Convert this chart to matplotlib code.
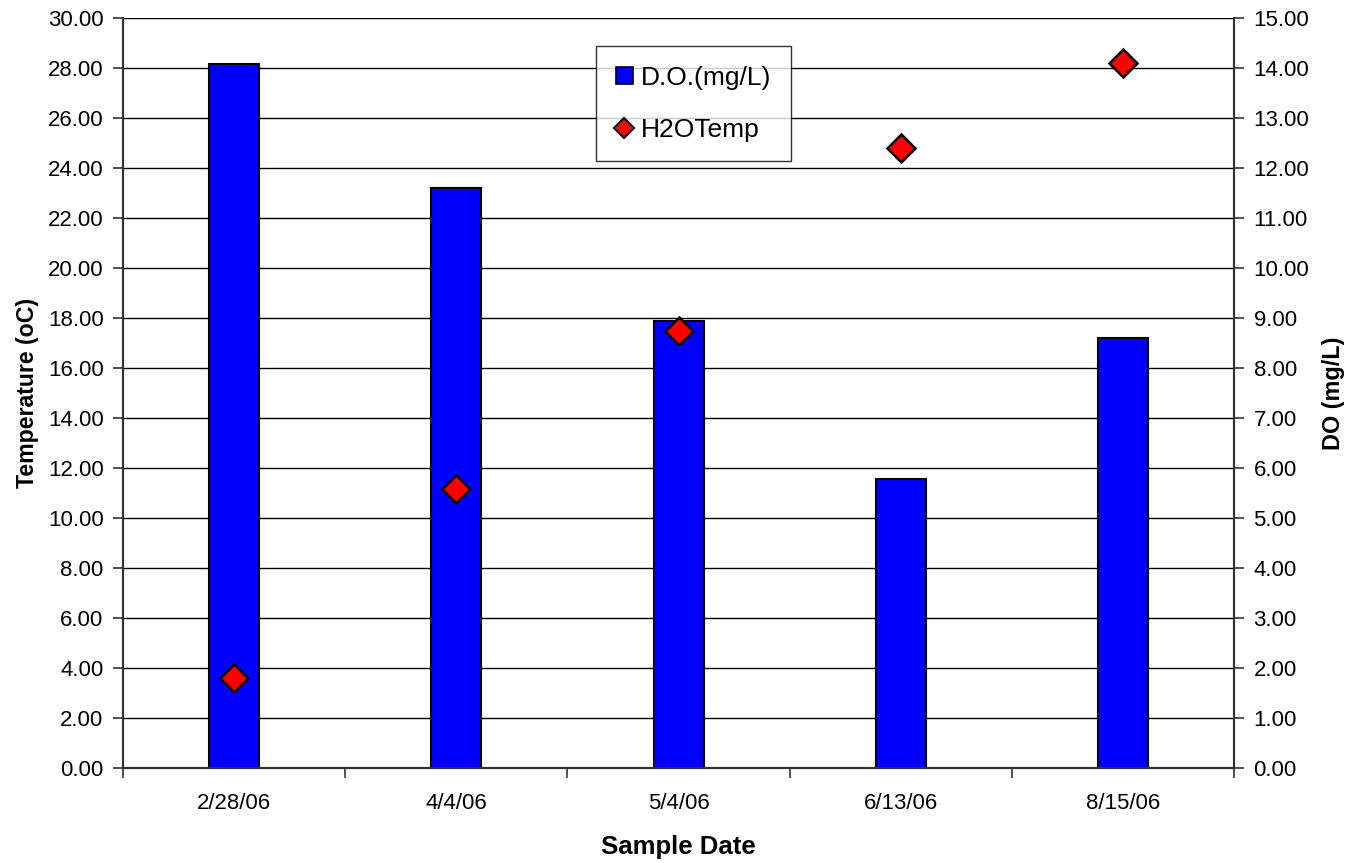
import numpy as np
import matplotlib
matplotlib.use('Agg')
import matplotlib.pyplot as plt
from matplotlib.ticker import FormatStrFormatter, FixedLocator
from matplotlib.lines import Line2D
from matplotlib.patches import Patch

plt.rcParams['font.family'] = ['Liberation Sans', 'DejaVu Sans']

# donnees
dates = ['2/28/06', '4/4/06', '5/4/06', '6/13/06', '8/15/06']
do_mgl = [14.08, 11.6, 8.94, 5.78, 8.6]
temp_c = [3.6, 11.18, 17.48, 24.8, 28.2]

x = np.arange(len(dates))

fig = plt.figure(figsize=(13.53, 8.63), dpi=100)
ax2 = fig.add_axes([0.0909, 0.110, 0.8212, 0.869])   # axe DO (droite), barres
ax = ax2.twinx()                                      # axe temperature (gauche)
ax.yaxis.tick_left()
ax.yaxis.set_label_position('left')
ax2.yaxis.tick_right()
ax2.yaxis.set_label_position('right')
ax.set_zorder(ax2.get_zorder() + 1)
ax.patch.set_visible(False)

# barres D.O.
ax2.bar(x, do_mgl, width=0.225, color='#0000ff', edgecolor='black', linewidth=1.5, zorder=3)
ax2.set_ylim(0, 15)
ax2.set_yticks(np.arange(0, 15.01, 1))
ax2.yaxis.set_major_formatter(FormatStrFormatter('%.2f'))
ax2.grid(axis='y', color='black', linewidth=1, zorder=0)
ax2.set_axisbelow(True)

# temperature
ax.plot(x, temp_c, linestyle='none', marker='D', markersize=14, markerfacecolor='#ff0000',
        markeredgecolor='black', markeredgewidth=1.8, zorder=5)
ax.set_ylim(0, 30)
ax.set_yticks(np.arange(0, 30.01, 2))
ax.yaxis.set_major_formatter(FormatStrFormatter('%.2f'))

ax2.set_xlim(-0.5, len(dates) - 0.5)
ax2.xaxis.set_major_locator(FixedLocator(np.arange(-0.5, len(dates), 1.0)))
ax2.xaxis.set_major_formatter(plt.NullFormatter())
ax2.xaxis.set_minor_locator(FixedLocator(x))
ax2.set_xticklabels(dates, minor=True)
ax2.tick_params(axis='x', which='minor', length=0, labelsize=16, pad=18)
ax2.tick_params(axis='x', which='major', length=7, width=1.2, color='#333333')

for a in (ax, ax2):
    a.spines['top'].set_visible(False)
    for s in ('left', 'right', 'bottom'):
        a.spines[s].set_color('#333333')
        a.spines[s].set_linewidth(1.5)
    a.tick_params(axis='y', labelsize=16, length=7, width=1.2, color='#333333', pad=7)

ax.set_ylabel('Temperature (oC)', fontsize=16.7, fontweight='bold', labelpad=6)
ax2.set_ylabel('DO (mg/L)', fontsize=16.8, fontweight='bold', labelpad=9)
ax2.set_xlabel('Sample Date', fontsize=18.5, fontweight='bold', labelpad=15)

handles = [Patch(facecolor='#0000ff', edgecolor='black', linewidth=1.2),
           Line2D([], [], linestyle='none', marker='D', markersize=10, markerfacecolor='#ff0000',
                  markeredgecolor='black', markeredgewidth=1.5)]
leg = ax.legend(handles, ['D.O.(mg/L)', 'H2OTemp'], loc='upper left',
                bbox_to_anchor=(0.4257, 0.9627), fontsize=19, frameon=True, fancybox=False,
                edgecolor='black', handlelength=0.65, handleheight=0.65, handletextpad=0.3,
                labelspacing=1.05, borderpad=0.75, borderaxespad=0)
leg.get_frame().set_linewidth(1.0)

fig.savefig('out.png', dpi=100)
